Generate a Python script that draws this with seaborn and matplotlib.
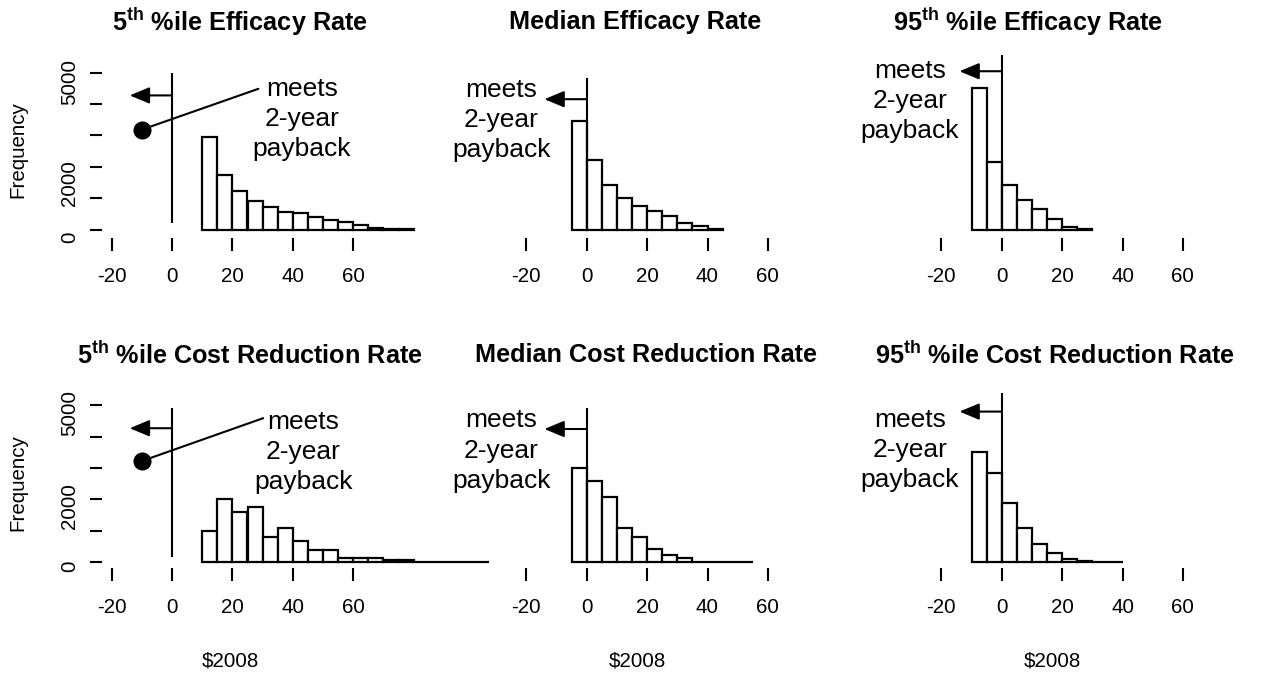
import numpy as np
import pandas as pd
import matplotlib
matplotlib.use("Agg")
import matplotlib.pyplot as plt
import seaborn as sns

# ---- histogram data: bin start (5-unit bins) and counts per bin ----
BIN_W = 5
eff_p5_start = 10
eff_p5_counts = [2960, 1720, 1240, 900, 710, 570, 520, 390, 290, 230, 130, 55, 20, 5]
eff_med_start = -5
eff_med_counts = [3470, 2210, 1410, 1010, 745, 585, 425, 215, 105, 30]
eff_p95_start = -10
eff_p95_counts = [4510, 2140, 1410, 930, 660, 340, 75, 10]
cost_p5_start = 10
cost_p5_counts = [1000, 2000, 1590, 1750, 815, 1080, 680, 390, 390, 150, 150, 150,
                  75, 75, 10, 5, 5, 3, 2]
cost_med_start = -5
cost_med_counts = [2990, 2600, 2070, 1080, 815, 415, 230, 145, 15, 8, 5, 3]
cost_p95_start = -10
cost_p95_counts = [3520, 2830, 1880, 1080, 575, 285, 95, 30, 10, 5]

titles = [r"5$^{\mathbf{th}}$ %ile Efficacy Rate", "Median Efficacy Rate",
          r"95$^{\mathbf{th}}$ %ile Efficacy Rate",
          r"5$^{\mathbf{th}}$ %ile Cost Reduction Rate", "Median Cost Reduction Rate",
          r"95$^{\mathbf{th}}$ %ile Cost Reduction Rate"]
x_ticks = [-20, 0, 20, 40, 60]
x_tick_labels = ["-20", "0", "20", "40", "60"]
y_ticks = [0, 1000, 2000, 3000, 4000, 5000]
y_label_text = ["0", "2000", "5000"]
note_text = "meets\n2-year\npayback"
x_unit_label = "\\$2008"

sns.set_style("white")
plt.rcParams["font.family"] = ["Liberation Sans", "DejaVu Sans"]
plt.rcParams["mathtext.fontset"] = "custom"
plt.rcParams["mathtext.rm"] = "Liberation Sans"
plt.rcParams["mathtext.bf"] = "Liberation Sans:bold"
plt.rcParams["text.color"] = "black"
plt.rcParams["axes.labelcolor"] = "black"
plt.rcParams["xtick.color"] = "black"
plt.rcParams["ytick.color"] = "black"

W, H = 1262, 673
fig = plt.figure(figsize=(W / 100, H / 100), dpi=100)
fig.patch.set_facecolor("white")

PX_X = 3.02      # pixels per x unit
PX_Y = 0.0314    # pixels per count
XLIM = (-25, 110)
YLIM = (-300, 6000)
col_zero = [172, 586.7, 1001.7]
row_base = [229.5, 562.3]
SMALL = 14.8

panels = [
    (eff_p5_start, eff_p5_counts), (eff_med_start, eff_med_counts),
    (eff_p95_start, eff_p95_counts), (cost_p5_start, cost_p5_counts),
    (cost_med_start, cost_med_counts), (cost_p95_start, cost_p95_counts),
]
# per-panel annotation layout: (ref line bottom, ref line top, arrow y, text x, text y, pointer)
notes = [
    (200, 4970, 4270, 43.0, 3530, ((-10, 3180), (28.6, 4480))),
    (0, 4815, 4150, -28.3, 3500, None),
    (0, 5570, 5040, -30.4, 4085, None),
    (180, 4900, 4270, 43.5, 3520, ((-10, 3225), (30.2, 4590))),
    (0, 4900, 4245, -28.3, 3560, None),
    (0, 5380, 4800, -30.4, 3580, None),
]
title_pos = [(240, 22), (635, 22), (1028, 22), (250, 355), (646, 355), (1055, 355)]
xtick_offset = [-255, -255, -255, -175, -175, -175]
ylab_pos = [[-240, 1480, 4700], [-120, 1780, 4770]]

for i, (start, counts) in enumerate(panels):
    r, c = divmod(i, 3)
    x0, yb = col_zero[c], row_base[r]
    left = x0 + XLIM[0] * PX_X
    width = (XLIM[1] - XLIM[0]) * PX_X
    bottom_px = yb - YLIM[0] * PX_Y
    height = (YLIM[1] - YLIM[0]) * PX_Y
    ax = fig.add_axes([left / W, 1 - bottom_px / H, width / W, height / H])
    ax.patch.set_visible(False)

    n = len(counts)
    lo_edge = start
    hi_edge = start + BIN_W * n
    df = pd.DataFrame({"value": start + BIN_W * np.arange(n) + BIN_W / 2,
                       "count": counts})
    sns.histplot(data=df, x="value", weights="count", binwidth=BIN_W,
                 binrange=(lo_edge, hi_edge), stat="count",
                 color="white", edgecolor="black", linewidth=1.6, alpha=1,
                 ax=ax, clip_on=False)
    ax.set_xlim(*XLIM)
    ax.set_ylim(*YLIM)
    ax.set_xlabel("")
    ax.set_ylabel("")

    for s in ax.spines.values():
        s.set_visible(False)
    ax.spines["bottom"].set_position(("data", xtick_offset[i]))
    ax.spines["left"].set_position(("data", -23.3))
    ax.set_xticks(x_ticks)
    ax.set_xticklabels(x_tick_labels)
    ax.tick_params(axis="x", direction="out", length=9.5, width=1.5,
                   pad=12, labelsize=SMALL, bottom=True, colors="black")
    if c == 0:
        ax.set_yticks(y_ticks)
        ax.set_yticklabels([])
        ax.tick_params(axis="y", direction="out", length=8.5, width=1.5,
                       left=True, colors="black")
        for txt, yy in zip(y_label_text, ylab_pos[r]):
            ax.text(-34, yy, txt, rotation=90, ha="center", va="center",
                    fontsize=SMALL, clip_on=False)
    else:
        ax.set_yticks([])

    lo, hi, ay, tx, ty, pointer = notes[i]
    ax.plot([0, 0], [lo, hi], color="black", lw=1.5, solid_capstyle="butt")
    ax.annotate("", xy=(-14, ay), xytext=(0, ay),
                arrowprops=dict(arrowstyle="-|>,head_length=1.2,head_width=0.5",
                                color="black", lw=1.5, shrinkA=0, shrinkB=0))
    ax.text(tx, ty, note_text, ha="center", va="center", fontsize=19,
            linespacing=1.32)
    if pointer is not None:
        (px, py), (qx, qy) = pointer
        ax.plot([px, qx], [py, qy], color="black", lw=1.5)
        ax.plot([px], [py], "o", color="black", markersize=12)

    tx_px, ty_px = title_pos[i]
    fig.text(tx_px / W, 1 - ty_px / H, titles[i], ha="center", va="center",
             fontsize=18.2, fontweight="bold")

for yy in (150, 483):
    fig.text(18 / W, 1 - yy / H, "Frequency", rotation=90, ha="center",
             va="center", fontsize=SMALL)
for xx in (230, 637, 1052):
    fig.text(xx / W, 1 - 661 / H, x_unit_label, ha="center", va="center",
             fontsize=SMALL)

fig.savefig("out.png", dpi=100, facecolor="white")
